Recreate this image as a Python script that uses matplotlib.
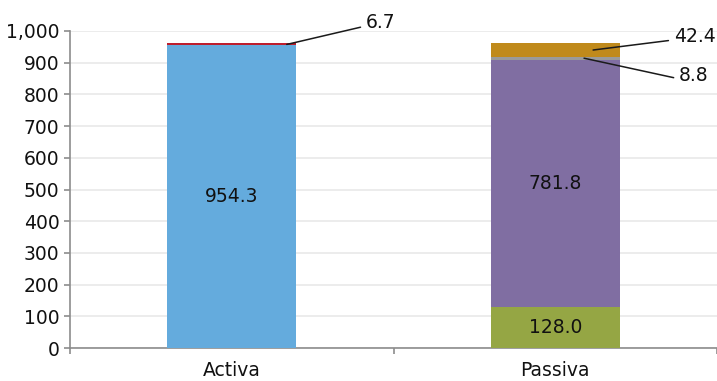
import matplotlib
matplotlib.use("Agg")
import matplotlib.pyplot as plt
import numpy as np

plt.rcParams['font.family'] = ['DejaVu Sans']

categories = ["Activa", "Passiva"]

# stacked segments, bottom to top: (category index, value, colour)
segments = [
    (0, 954.3, "#64ABDD"),
    (0, 6.7, "#BE1E2D"),
    (1, 128.0, "#95A644"),
    (1, 781.8, "#806EA2"),
    (1, 8.8, "#9A9A9A"),
    (1, 42.4, "#C08A1B"),
]
# values written inside the bars
inside_labels = [954.3, 128.0, 781.8]
# small segments labelled with a leader line: value, line start (x, y), text position (x, y)
callouts = [
    (6.7, (0.17, 957.6), (0.415, 1028)),
    (42.4, (1.117, 940.0), (1.367, 984)),
    (8.8, (1.089, 914.2), (1.383, 861)),
]

fig = plt.figure(figsize=(7.17, 3.81), dpi=100)
ax = fig.add_axes([70 / 717, 1 - 348 / 381, 647 / 717, (348 - 31) / 381])

bottoms = np.zeros(len(categories))
for idx, val, col in segments:
    ax.bar(idx, val, width=0.4, bottom=bottoms[idx], color=col, zorder=3)
    if val in inside_labels:
        ax.text(idx, bottoms[idx] + val / 2, f"{val:.1f}", ha="center", va="center",
                fontsize=13.5, color="#111111", zorder=4)
    bottoms[idx] += val

for val, start, pos in callouts:
    ax.annotate(f"{val:.1f}", xy=start, xytext=pos, ha="left", va="center",
                fontsize=13.5, color="#111111", annotation_clip=False,
                arrowprops=dict(arrowstyle="-", color="#1a1a1a", lw=1.1,
                                relpos=(0, 0.3), shrinkA=2, shrinkB=0))

ax.set_xlim(-0.5, 1.5)
ax.set_ylim(0, 1000)
ax.set_yticks(np.arange(0, 1001, 100))
ax.set_yticklabels([f"{v:,}" for v in range(0, 1001, 100)])
ax.yaxis.grid(True, color="#e9e9e9", lw=1.2, zorder=0)

ax.set_xticks([0, 1])
ax.set_xticklabels(categories)
ax.set_xticks([-0.5, 0.5, 1.5], minor=True)
ax.tick_params(axis="x", which="major", length=0, pad=9.5, labelsize=13.5, labelcolor="#111111")
ax.tick_params(axis="x", which="minor", length=4, color="#8c8c8c", width=1.2)
ax.tick_params(axis="y", length=4, color="#8c8c8c", width=1.2, labelsize=13.5,
               labelcolor="#111111", pad=3.5)

for side in ["top", "right"]:
    ax.spines[side].set_visible(False)
for side in ["left", "bottom"]:
    ax.spines[side].set_color("#8c8c8c")
    ax.spines[side].set_linewidth(1.2)

fig.savefig("out.png", dpi=100)
